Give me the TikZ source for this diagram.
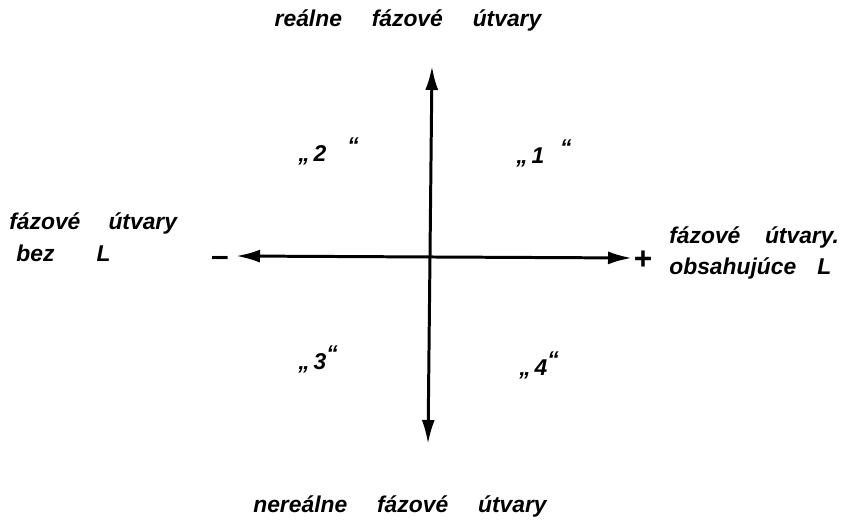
\documentclass[tikz,border=0pt]{standalone}
\usepackage{fontspec}
\setmainfont{Liberation Sans}
\usepackage{tikz}
\usetikzlibrary{arrows.meta,positioning}

\newcommand{\upq}{\raisebox{5pt}{“}}

\begin{document}
\begin{tikzpicture}[
    x=0.02cm, y=-0.02cm,
    axis/.style={line width=1.7pt, {Latex[length=4.8mm,width=2.6mm]}-{Latex[length=4.8mm,width=2.6mm]}},
    caption/.style={font=\fontsize{13}{16}\selectfont\bfseries\itshape, inner sep=0pt},
    sidecap/.style={caption, align=left, anchor=west},
    quad/.style={font=\fontsize{13}{15}\selectfont\bfseries\itshape, inner sep=0pt, anchor=base west},
    sign/.style={font=\fontsize{18}{18}\selectfont\bfseries, inner sep=0pt}
]
\useasboundingbox (0,0) rectangle (851,526);

% osi
\coordinate (origin) at (431,256);
\coordinate (top) at (432,66);
\coordinate (bottom) at (428,444);
\coordinate (minus) at (236,256);
\coordinate (plus) at (632,258);

\draw[axis] (bottom) -- (top);
\draw[axis] (minus) -- (plus);

% popisy osi
\node[caption] (real) at (408,21) {reálne\hspace{17pt}fázové\hspace{17pt}útvary};
\node[caption] (unreal) at (400,506) {nereálne\hspace{17pt}fázové\hspace{17pt}útvary};
\node[sidecap] (without) at (9,237) {fázové\hspace{16pt}útvary\\[2pt]\hspace{4pt}bez\hspace{24pt}L};
\node[sidecap] (with) at (669,253) {fázové\hspace{14pt}útvary.\\[2pt]obsahujúce\hspace{12pt}L};

% znamienka
\node[sign] (minussign) at (220,261) {–};
\node[sign] (plussign) at (643,260) {+};

% kvadranty
\node[quad] (q1) at (516,164) {„\,1\hspace{9pt}\upq};
\node[quad] (q2) at (298,162) {„\,2\hspace{12pt}\upq};
\node[quad] (q3) at (298,370) {„\,3\upq};
\node[quad] (q4) at (519,376) {„\,4\upq};

\end{tikzpicture}
\end{document}
